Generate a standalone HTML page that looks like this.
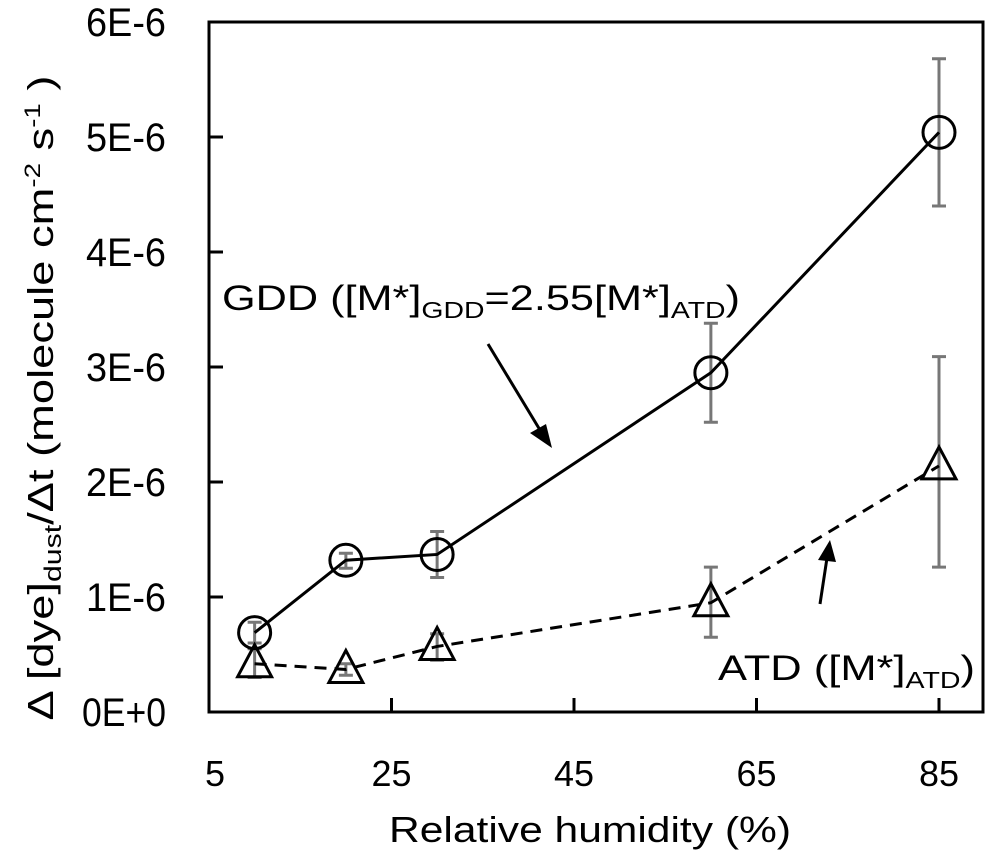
<!DOCTYPE html>
<html><head><meta charset="utf-8"><style>
body{margin:0;background:#fff}
svg text{font-family:"Liberation Sans",sans-serif;fill:#000}
</style></head><body>
<svg id="chart" width="991" height="856" xmlns="http://www.w3.org/2000/svg">
<g id="grid"></g>
<g id="marks"></g>
<text x="222" y="310" font-size="35" textLength="518" lengthAdjust="spacingAndGlyphs">GDD ([M*]<tspan font-size="23" dy="8">GDD</tspan><tspan dy="-8">=2.55[M*]</tspan><tspan font-size="23" dy="8">ATD</tspan><tspan dy="-8">)</tspan></text>
<text x="718" y="680" font-size="35" textLength="257" lengthAdjust="spacingAndGlyphs">ATD ([M*]<tspan font-size="23" dy="8">ATD</tspan><tspan dy="-8">)</tspan></text>
<line x1="488" y1="344" x2="540" y2="430" stroke="#000" stroke-width="3"/>
<polygon points="552,448 530,433 546,424" fill="#000"/>
<line x1="820" y1="604" x2="827" y2="558" stroke="#000" stroke-width="3"/>
<polygon points="830,540 818,560 836,562" fill="#000"/>
<text x="590" y="842" font-size="36" text-anchor="middle" textLength="402" lengthAdjust="spacingAndGlyphs">Relative humidity (%)</text>
<text transform="translate(53,398) rotate(-90)" font-size="36" text-anchor="middle" textLength="645" lengthAdjust="spacingAndGlyphs">Δ [dye]<tspan font-size="24" dy="8">dust</tspan><tspan dy="-8">/Δt   (molecule cm</tspan><tspan font-size="22" dy="-13">-2</tspan><tspan dy="13"> s</tspan><tspan font-size="22" dy="-13">-1</tspan><tspan dy="13"> )</tspan></text>
</svg>
<script>
const xVals=[10,20,30,60,85];
const gddVals=[0.69,1.32,1.37,2.95,5.04];
const gddHi=[0.78,1.38,1.57,3.38,5.68];
const gddLo=[0.60,1.25,1.17,2.52,4.40];
const atdVals=[0.42,0.37,0.57,0.95,2.14];
const atdHi=[0.55,0.42,0.68,1.26,3.09];
const atdLo=[0.30,0.32,0.45,0.65,1.26];
const yTicks=[0,1,2,3,4,5,6];
const yLabels=["0E+0","1E-6","2E-6","3E-6","4E-6","5E-6","6E-6"];
const xTicks=[5,25,45,65,85];
const NS="http://www.w3.org/2000/svg";
const X=v=>209+(v-5)*9.125, Y=v=>712-v*115;
function mk(t,a,p){const e=document.createElementNS(NS,t);for(const k in a)e.setAttribute(k,a[k]);p.appendChild(e);return e;}
const g=document.getElementById('grid'), m=document.getElementById('marks');
let r=mk('rect',{x:209,y:22,width:774,height:690,fill:'none',stroke:'#000','stroke-width':3},g);


yTicks.forEach((v,i)=>{
 let l=mk('line',{x1:209,x2:223,y1:Y(v),y2:Y(v),stroke:'#000','stroke-width':3},g);
 
 
 let t=mk('text',{x:166,y:Y(v)+14,'font-size':40,'text-anchor':'end',textLength:v===0?84:80,lengthAdjust:'spacingAndGlyphs'},g);t.textContent=yLabels[i];
 
 
});
xTicks.forEach(v=>{
 if(v>5){let l=mk('line',{x1:X(v),x2:X(v),y1:712,y2:698,stroke:'#000','stroke-width':3},g);
 
 }
 let t=mk('text',{x:X(v)+(v===5?6:0),y:786,'font-size':36,'text-anchor':'middle'},g);t.textContent=v;
 
 
});
function err(vals,hi,lo,name){xVals.forEach((x,i)=>{
 const c=X(x);
 let e=mk('path',{d:`M${c},${Y(hi[i])}V${Y(lo[i])}M${c-7},${Y(hi[i])}H${c+7}M${c-7},${Y(lo[i])}H${c+7}`,stroke:'#777','stroke-width':3,fill:'none'},m);
 
 
});}
err(gddVals,gddHi,gddLo,'gdd');err(atdVals,atdHi,atdLo,'atd');
let p1=mk('polyline',{points:xVals.map((x,i)=>X(x)+','+Y(gddVals[i])).join(' '),fill:'none',stroke:'#000','stroke-width':3},m);


let p2=mk('polyline',{points:xVals.map((x,i)=>X(x)+','+Y(atdVals[i])).join(' '),fill:'none',stroke:'#000','stroke-width':3,'stroke-dasharray':'12,8'},m);


xVals.forEach((x,i)=>{
 let c=mk('circle',{cx:X(x),cy:Y(gddVals[i]),r:16,fill:'none',stroke:'#000','stroke-width':3},m);
 
 
 const cx=X(x),cy=Y(atdVals[i]);
 let t=mk('polygon',{points:`${cx},${cy-19} ${cx-17},${cy+13} ${cx+17},${cy+13}`,fill:'none',stroke:'#000','stroke-width':3},m);
 
 
});
</script>
</body></html>
